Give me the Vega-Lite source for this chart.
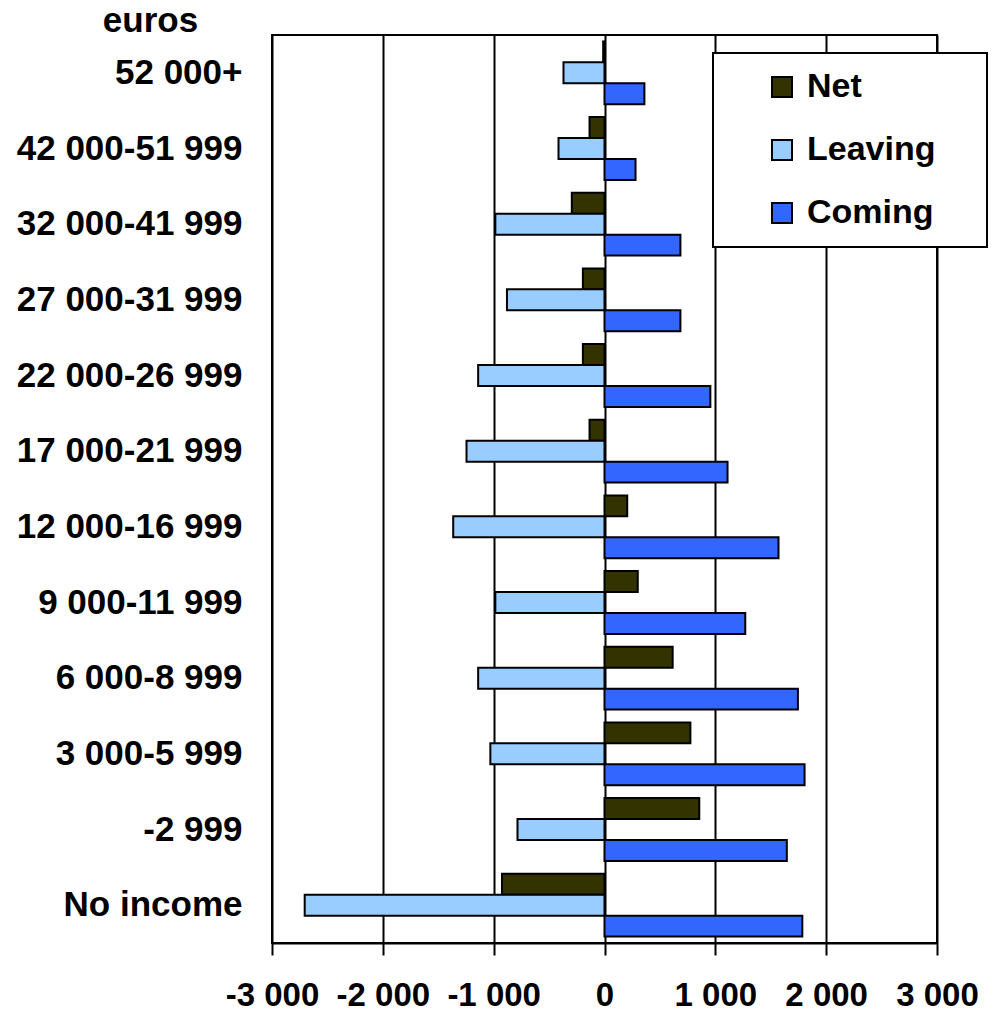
{
  "$schema": "https://vega.github.io/schema/vega-lite/v6.json",
  "width": 665,
  "height": 908,
  "autosize": "none",
  "padding": {"left": 272, "top": 35, "right": 56, "bottom": 71},
  "background": "white",
  "config": {
    "font": "Liberation Sans",
    "view": {"stroke": "black", "strokeWidth": 2}
  },
  "data": {
    "values": [
      {"income": "52 000+", "series": "Net", "value": -12},
      {"income": "52 000+", "series": "Leaving", "value": -370},
      {"income": "52 000+", "series": "Coming", "value": 360},
      {"income": "42 000-51 999", "series": "Net", "value": -135},
      {"income": "42 000-51 999", "series": "Leaving", "value": -415},
      {"income": "42 000-51 999", "series": "Coming", "value": 280},
      {"income": "32 000-41 999", "series": "Net", "value": -295},
      {"income": "32 000-41 999", "series": "Leaving", "value": -985},
      {"income": "32 000-41 999", "series": "Coming", "value": 685},
      {"income": "27 000-31 999", "series": "Net", "value": -195},
      {"income": "27 000-31 999", "series": "Leaving", "value": -880},
      {"income": "27 000-31 999", "series": "Coming", "value": 685},
      {"income": "22 000-26 999", "series": "Net", "value": -195},
      {"income": "22 000-26 999", "series": "Leaving", "value": -1140},
      {"income": "22 000-26 999", "series": "Coming", "value": 955},
      {"income": "17 000-21 999", "series": "Net", "value": -135},
      {"income": "17 000-21 999", "series": "Leaving", "value": -1245},
      {"income": "17 000-21 999", "series": "Coming", "value": 1110},
      {"income": "12 000-16 999", "series": "Net", "value": 205},
      {"income": "12 000-16 999", "series": "Leaving", "value": -1365},
      {"income": "12 000-16 999", "series": "Coming", "value": 1570},
      {"income": "9 000-11 999", "series": "Net", "value": 300},
      {"income": "9 000-11 999", "series": "Leaving", "value": -985},
      {"income": "9 000-11 999", "series": "Coming", "value": 1270},
      {"income": "6 000-8 999", "series": "Net", "value": 615},
      {"income": "6 000-8 999", "series": "Leaving", "value": -1140},
      {"income": "6 000-8 999", "series": "Coming", "value": 1745},
      {"income": "3 000-5 999", "series": "Net", "value": 775},
      {"income": "3 000-5 999", "series": "Leaving", "value": -1030},
      {"income": "3 000-5 999", "series": "Coming", "value": 1805},
      {"income": "-2 999", "series": "Net", "value": 855},
      {"income": "-2 999", "series": "Leaving", "value": -785},
      {"income": "-2 999", "series": "Coming", "value": 1645},
      {"income": "No income", "series": "Net", "value": -925},
      {"income": "No income", "series": "Leaving", "value": -2705},
      {"income": "No income", "series": "Coming", "value": 1785}
    ]
  },
  "mark": {"type": "bar", "stroke": "black", "strokeWidth": 2},
  "encoding": {
    "y": {
      "field": "income",
      "type": "nominal",
      "sort": ["52 000+", "42 000-51 999", "32 000-41 999", "27 000-31 999", "22 000-26 999", "17 000-21 999", "12 000-16 999", "9 000-11 999", "6 000-8 999", "3 000-5 999", "-2 999", "No income"],
      "scale": {"paddingInner": 0.17, "paddingOuter": 0.085},
      "axis": {
        "title": "euros",
        "titleAngle": 0,
        "titleX": -122,
        "titleY": -15,
        "titleAlign": "center",
        "titleBaseline": "middle",
        "titleFontSize": 35,
        "titleFontWeight": "bold",
        "titleColor": "black",
        "labelFontSize": 35,
        "labelFontWeight": "bold",
        "labelColor": "black",
        "labelPadding": 30,
        "labelLimit": 400,
        "ticks": false,
        "domain": false
      }
    },
    "yOffset": {"field": "series", "type": "nominal", "sort": ["Net", "Leaving", "Coming"]},
    "x": {
      "field": "value",
      "type": "quantitative",
      "scale": {"domain": [-3000, 3000]},
      "axis": {
        "title": null,
        "values": [-3000, -2000, -1000, 0, 1000, 2000, 3000],
        "grid": true,
        "gridColor": "black",
        "gridWidth": 2,
        "gridOpacity": 1,
        "domainColor": "black",
        "domainWidth": 2,
        "tickColor": "black",
        "tickWidth": 2,
        "tickSize": 12,
        "labelFontSize": 33,
        "labelFontWeight": "bold",
        "labelColor": "black",
        "labelPadding": 24,
        "labelFlush": false,
        "labelOverlap": false,
        "labelExpr": "replace(replace(format(datum.value, ','), ',', ' '), '\u2212', '-')"
      }
    },
    "color": {
      "field": "series",
      "type": "nominal",
      "scale": {"domain": ["Net", "Leaving", "Coming"], "range": ["#333300", "#99CCFF", "#3366FF"]},
      "legend": {
        "orient": "none",
        "legendX": 441,
        "legendY": 18,
        "title": " ",
        "titleOrient": "left",
        "titlePadding": 35,
        "titleFontSize": 34,
        "padding": 17,
        "strokeColor": "black",
        "fillColor": "white",
        "symbolType": "square",
        "symbolSize": 400,
        "symbolStrokeColor": "black",
        "symbolStrokeWidth": 2,
        "symbolOpacity": 1,
        "labelFontSize": 34,
        "labelFontWeight": "bold",
        "labelColor": "black",
        "labelOffset": 8,
        "rowPadding": 29,
        "labelLimit": 400,
        "labelExpr": "datum.label + '\u2003\u200b'",
        "encode": {"legend": {"update": {"strokeWidth": {"value": 2}}}}
      }
    }
  }
}
